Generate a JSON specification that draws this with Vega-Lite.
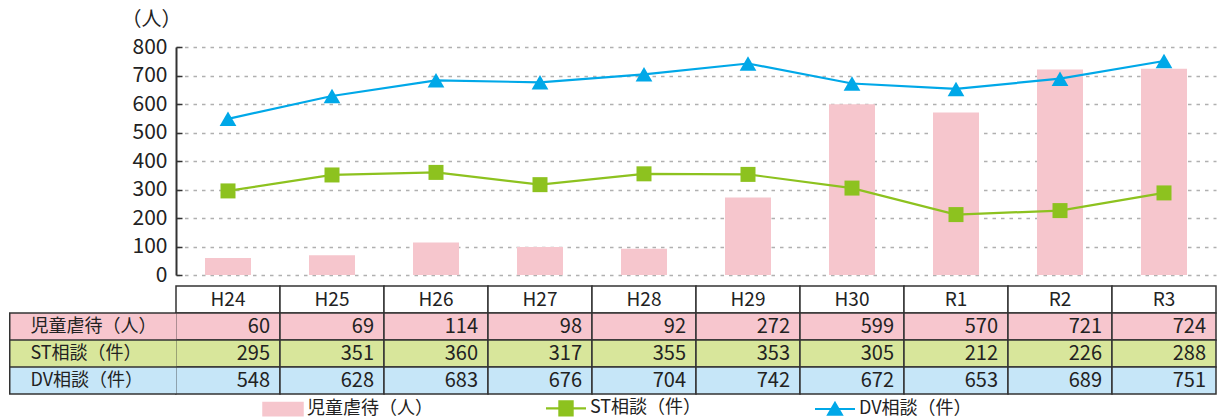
{
  "$schema": "https://vega.github.io/schema/vega-lite/v6.json",
  "padding": {"left": -6, "top": 9, "right": 0, "bottom": 0},
  "spacing": 0,
  "config": {"view": {"stroke": null}, "font": "Noto Sans CJK JP", "axisY": {"labelOverlap": false}},
  "datasets": {
    "d": [
      {"year": "H24", "child": 60, "st": 295, "dv": 548},
      {"year": "H25", "child": 69, "st": 351, "dv": 628},
      {"year": "H26", "child": 114, "st": 360, "dv": 683},
      {"year": "H27", "child": 98, "st": 317, "dv": 676},
      {"year": "H28", "child": 92, "st": 355, "dv": 704},
      {"year": "H29", "child": 272, "st": 353, "dv": 742},
      {"year": "H30", "child": 599, "st": 305, "dv": 672},
      {"year": "R1", "child": 570, "st": 212, "dv": 653},
      {"year": "R2", "child": 721, "st": 226, "dv": 689},
      {"year": "R3", "child": 724, "st": 288, "dv": 751}
    ],
    "rows": [
      {"key": "child", "label": "児童虐待（人）"},
      {"key": "st", "label": "ST相談（件）"},
      {"key": "dv", "label": "DV相談（件）"}
    ]
  },
  "vconcat": [
    {
      "width": 1040,
      "height": 228,
      "data": {"name": "d"},
      "encoding": {
        "x": {
          "field": "year", "type": "nominal", "sort": null,
          "scale": {"paddingInner": 0, "paddingOuter": 0},
          "axis": null
        }
      },
      "layer": [
        {
          "mark": {"type": "bar", "size": 46},
          "encoding": {
            "y": {
              "field": "child", "type": "quantitative",
              "scale": {"domain": [0, 800], "nice": false},
              "axis": {
                "title": "（人）", "titleAngle": 0, "titleAlign": "right", "titleBaseline": "alphabetic",
                "titleX": 5, "titleY": -22, "titleFontSize": 20, "titleFontWeight": "normal", "titleColor": "#222",
                "values": [0, 100, 200, 300, 400, 500, 600, 700, 800], "tickCount": 9, "labelOverlap": false,
                "labelFontSize": 21, "labelColor": "#222", "tickSize": -6, "labelPadding": 15,
                "tickColor": "#333", "tickWidth": 1.5, "domainColor": "#333", "domainWidth": 2,
                "grid": true, "gridColor": "#b0b0b0", "gridDash": [3.5, 5], "gridWidth": 1.5
              }
            },
            "color": {
              "datum": "児童虐待（人）", "type": "nominal",
              "scale": {"domain": ["児童虐待（人）", "ST相談（件）", "DV相談（件）"], "range": ["#F6C6CD", "#8DC21F", "#00A8E8"]},
              "legend": {
                "title": null, "orient": "none", "legendX": 98, "legendY": 352, "direction": "horizontal",
                "symbolSize": 1600, "labelFontSize": 18, "labelOffset": 15, "columnPadding": 108,
                "labelColor": "#222", "padding": 0,
                "encode": {
                  "symbols": {
                    "update": {
                      "shape": {"signal": "datum.value === '児童虐待（人）' ? 'M-1,-0.33H1V0.33H-1Z' : datum.value === 'ST相談（件）' ? 'M-1,0H1M-0.33,-0.35H0.33V0.35H-0.33Z' : 'M-1,0H1M0,-0.3L0.34,0.28H-0.34Z'"},
                      "stroke": {"signal": "datum.value === '児童虐待（人）' ? '#DF8D98' : datum.value === 'ST相談（件）' ? '#8DC21F' : '#00A8E8'"},
                      "fill": {"signal": "datum.value === '児童虐待（人）' ? '#F6C5CC' : datum.value === 'ST相談（件）' ? '#8DC21F' : '#00A8E8'"},
                      "strokeWidth": {"signal": "datum.value === '児童虐待（人）' ? 1.5 : 2.2"}
                    }
                  }
                }
              }
            }
          }
        },
        {
          "mark": {"type": "line", "strokeWidth": 2.2, "point": {"shape": "square", "size": 225, "filled": true, "opacity": 1}},
          "encoding": {
            "y": {"field": "st", "type": "quantitative"},
            "color": {"datum": "ST相談（件）", "type": "nominal"}
          }
        },
        {
          "mark": {"type": "line", "strokeWidth": 2.2, "point": {"shape": "triangle-up", "size": 280, "filled": true, "opacity": 1}},
          "encoding": {
            "y": {"field": "dv", "type": "quantitative"},
            "color": {"datum": "DV相談（件）", "type": "nominal"}
          }
        }
      ]
    },
    {
      "width": 1040,
      "height": 108,
      "resolve": {"axis": {"y": "independent"}},
      "encoding": {
        "x": {"field": "year", "type": "nominal", "scale": {"domain": ["H24","H25","H26","H27","H28","H29","H30","R1","R2","R3"], "paddingInner": 0, "paddingOuter": 0}, "axis": null}
      },
      "layer": [
        {
          "data": {"name": "d"},
          "mark": {"type": "rect", "fill": "white", "stroke": "#333", "strokeWidth": 1.5},
          "encoding": {
            "y": {
              "datum": "header", "type": "nominal",
              "scale": {"domain": ["header", "児童虐待（人）", "ST相談（件）", "DV相談（件）"], "paddingInner": 0, "paddingOuter": 0},
              "axis": {
                "orient": "left", "title": null, "domain": false, "labels": false, "zindex": 0,
                "values": ["児童虐待（人）", "ST相談（件）", "DV相談（件）"],
                "tickSize": 167.5, "tickWidth": 28.5, "tickColor": "#333"
              }
            }
          }
        },
        {
          "data": {"name": "d"},
          "mark": {"type": "text", "fontSize": 19, "color": "#222"},
          "encoding": {
            "y": {
              "datum": "header", "type": "nominal",
              "axis": {
                "orient": "left", "title": null, "domain": false, "labels": false, "zindex": 1,
                "values": ["児童虐待（人）", "ST相談（件）", "DV相談（件）"],
                "tickSize": 166, "tickWidth": 25.5,
                "tickColor": {
                  "condition": [
                    {"test": "datum.value === '児童虐待（人）'", "value": "#F7C6CE"},
                    {"test": "datum.value === 'ST相談（件）'", "value": "#D8E69B"}
                  ],
                  "value": "#C6E6F8"
                }
              }
            },
            "text": {"field": "year"}
          }
        },
        {
          "data": {"name": "d"},
          "transform": [
            {"fold": ["child", "st", "dv"], "as": ["key", "value"]},
            {"lookup": "key", "from": {"data": {"name": "rows"}, "key": "key", "fields": ["label"]}}
          ],
          "mark": {"type": "rect", "stroke": "#333", "strokeWidth": 1.5},
          "encoding": {
            "y": {
              "field": "label", "type": "nominal",
              "axis": {
                "orient": "left", "title": null, "domain": false, "zindex": 2,
                "values": ["児童虐待（人）", "ST相談（件）", "DV相談（件）"],
                "labelAlign": "left", "labelPadding": 0, "labelFontSize": 18, "labelColor": "#222",
                "tickSize": 146, "tickColor": "transparent"
              }
            },
            "fill": {"field": "key", "type": "nominal", "scale": {"domain": ["child", "st", "dv"], "range": ["#F7C6CE", "#D8E69B", "#C6E6F8"]}, "legend": null}
          }
        },
        {
          "data": {"name": "d"},
          "transform": [
            {"fold": ["child", "st", "dv"], "as": ["key", "value"]},
            {"lookup": "key", "from": {"data": {"name": "rows"}, "key": "key", "fields": ["label"]}}
          ],
          "mark": {"type": "text", "fontSize": 20, "color": "#222", "align": "right", "dx": -10},
          "encoding": {
            "x": {"field": "year", "type": "nominal", "bandPosition": 1},
            "y": {"field": "label", "type": "nominal", "axis": null},
            "text": {"field": "value", "type": "quantitative"}
          }
        }
      ]
    }
  ]
}
